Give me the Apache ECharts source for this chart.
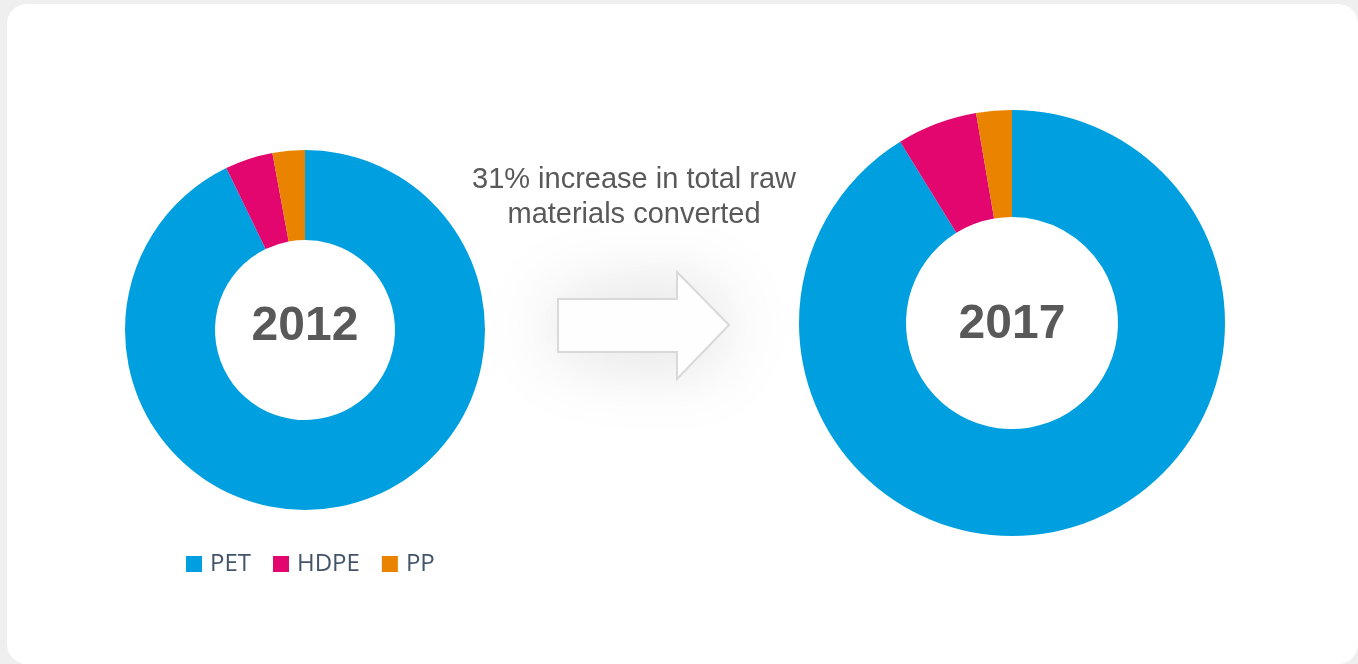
<!DOCTYPE html>
<html>
<head>
<meta charset="utf-8">
<script src="https://cdn.jsdelivr.net/npm/echarts@6/dist/echarts.min.js"></script>
<style>
html, body { margin: 0; padding: 0; background: #efefef; }
#main { width: 1358px; height: 664px; }
</style>
</head>
<body>
<div id="main"></div>
<script>
// data (share of raw materials, %)
var categories = ['PET', 'HDPE', 'PP'];
var years = ['2012', '2017'];
var values2012 = [92.8, 4.3, 2.9];
var values2017 = [91.2, 6.1, 2.7];
var colors = ['#009fdf', '#e2066e', '#e98300'];
var noteLines = ['31% increase in total raw', 'materials converted'];

function toData(vals) {
  return categories.map(function (c, i) { return { name: c, value: vals[i] }; });
}

var myChart = echarts.init(document.getElementById('main'));
var option = {
  backgroundColor: '#efefef',
  color: colors,
  animation: false,
  legend: {
    data: categories,
    left: 181,
    top: 547,
    icon: 'rect',
    itemWidth: 16,
    itemHeight: 16,
    itemGap: 22,
    textStyle: { fontFamily: 'Open Sans', fontSize: 24, color: '#44546a', padding: [0, 0, 0, 3] }
  },
  graphic: [
    {
      type: 'rect', z: -10,
      shape: { x: 7, y: 4, width: 1351, height: 660, r: 20 },
      style: { fill: '#ffffff' }
    },
    {
      type: 'polygon', z: 1,
      shape: { points: [[558, 299], [677, 299], [677, 272], [729, 325], [677, 379], [677, 352], [558, 352]] },
      style: { fill: '#ffffff', stroke: '#d9d9d9', lineWidth: 2, shadowBlur: 80, shadowColor: 'rgba(0,0,0,0.15)' }
    },
    {
      type: 'text', z: 5,
      style: {
        x: 634, y: 162, text: noteLines.join('\n'), align: 'center',
        fontFamily: 'Liberation Sans, Arial', fontSize: 29, lineHeight: 35, fill: '#595959'
      }
    },
    {
      type: 'text', z: 10,
      style: { x: 305, y: 327, text: years[0], align: 'center', verticalAlign: 'middle',
        fontFamily: 'Liberation Sans, Arial', fontWeight: 'bold', fontSize: 48, fill: '#595959' }
    },
    {
      type: 'text', z: 10,
      style: { x: 1012, y: 325, text: years[1], align: 'center', verticalAlign: 'middle',
        fontFamily: 'Liberation Sans, Arial', fontWeight: 'bold', fontSize: 48, fill: '#595959' }
    }
  ],
  series: [
    {
      name: years[0], type: 'pie',
      center: [305, 330], radius: [90, 180],
      startAngle: 90, clockwise: true,
      label: { show: false }, labelLine: { show: false },
      emphasis: { scale: false },
      data: toData(values2012)
    },
    {
      name: years[1], type: 'pie',
      center: [1012, 323], radius: [106, 213],
      startAngle: 90, clockwise: true,
      label: { show: false }, labelLine: { show: false },
      emphasis: { scale: false },
      data: toData(values2017)
    }
  ]
};
myChart.setOption(option);
</script>
</body>
</html>
